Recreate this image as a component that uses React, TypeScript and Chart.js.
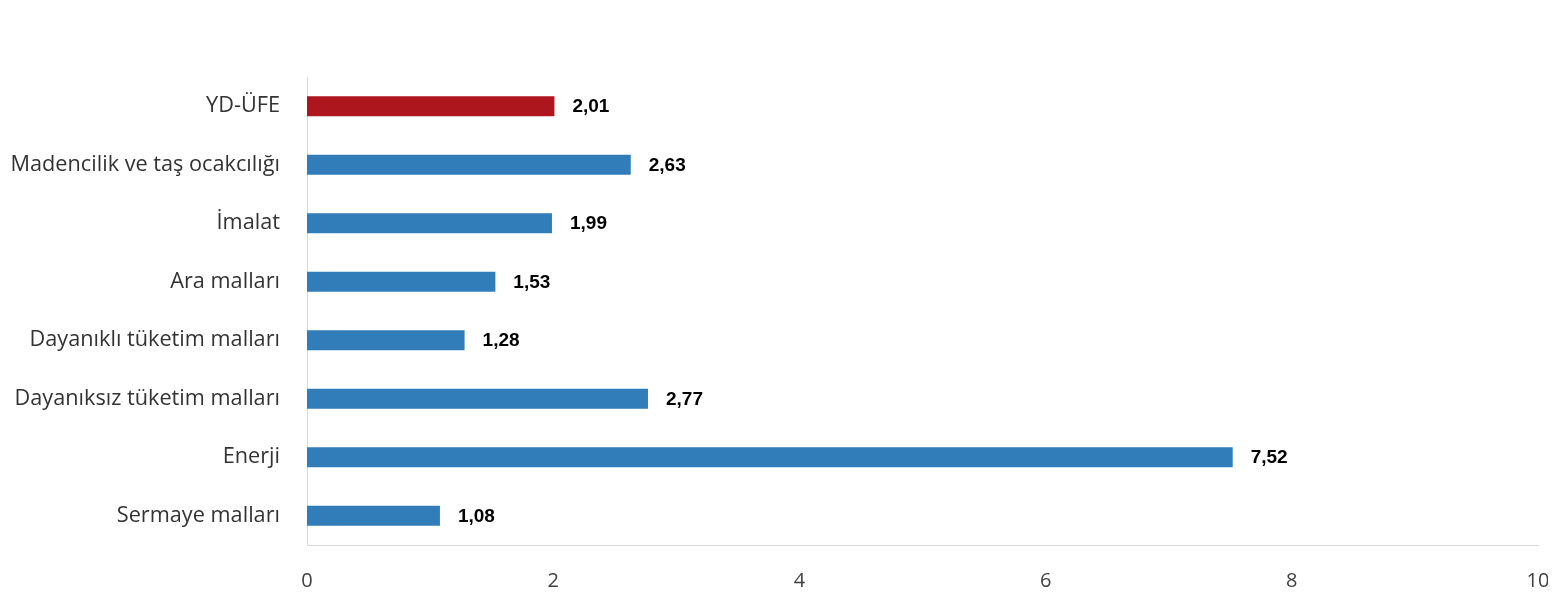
import React, { useEffect, useRef } from "react";
import { Chart, registerables } from "chart.js";

Chart.register(...registerables);

const categories = [
  "YD-ÜFE",
  "Madencilik ve taş ocakcılığı",
  "İmalat",
  "Ara malları",
  "Dayanıklı tüketim malları",
  "Dayanıksız tüketim malları",
  "Enerji",
  "Sermaye malları",
];
const values = [2.01, 2.63, 1.99, 1.53, 1.28, 2.77, 7.52, 1.08];
const barColors = ["#AE161D", "#317DBA", "#317DBA", "#317DBA", "#317DBA", "#317DBA", "#317DBA", "#317DBA"];
const xTicks = [0, 2, 4, 6, 8, 10];

const labelPlugin = {
  id: "valueLabels",
  afterDatasetsDraw(chart: any) {
    const ctx = chart.ctx;
    const meta = chart.getDatasetMeta(0);
    ctx.save();
    ctx.font = "bold 19px 'Liberation Sans', Arial, sans-serif";
    ctx.fillStyle = "#000000";
    ctx.textAlign = "left";
    ctx.textBaseline = "middle";
    meta.data.forEach((bar: any, i: number) => {
      const txt = values[i].toFixed(2).replace(".", ",");
      ctx.fillText(txt, bar.x + 18, bar.y + 1);
    });
    ctx.restore();
  },
};

export default function App() {
  const ref = useRef<HTMLCanvasElement | null>(null);
  useEffect(() => {
    if (!ref.current) return;
    const chart = new Chart(ref.current, {
      type: "bar",
      data: {
        labels: categories,
        datasets: [
          {
            data: values,
            backgroundColor: barColors,
            barPercentage: 0.68,
            categoryPercentage: 0.5,
          },
        ],
      },
      options: {
        indexAxis: "y",
        animation: false,
        responsive: false,
        maintainAspectRatio: false,
        layout: { padding: { top: 69, right: 10, bottom: 0, left: 0 } },
        plugins: { legend: { display: false }, tooltip: { enabled: false } },
        scales: {
          x: {
            min: 0,
            max: 10,
            afterBuildTicks: (scale: any) => {
              scale.ticks = xTicks.map((v) => ({ value: v }));
            },
            afterFit: (scale: any) => {
              scale.height = 47;
              scale.paddingLeft = 0;
              scale.paddingRight = 0;
            },
            grid: { display: false, drawTicks: false },
            border: { display: true, color: "#D9D9D9", width: 1 },
            ticks: {
              padding: 24,
              color: "#404040",
              font: { family: "'Open Sans', sans-serif", size: 20 },
            },
          },
          y: {
            afterFit: (scale: any) => {
              scale.width = 299;
              scale.paddingTop = 0;
              scale.paddingBottom = 0;
            },
            grid: { display: false, drawTicks: false },
            border: { display: true, color: "#D9D9D9", width: 1 },
            ticks: {
              padding: 27,
              color: "#333333",
              font: { family: "'Open Sans', sans-serif", size: 21.7 },
            },
          },
        },
      },
      plugins: [labelPlugin],
    });
    return () => chart.destroy();
  }, []);
  return (
    <div style={{ width: 1540, height: 584 }}>
      <canvas ref={ref} width={1540} height={584} style={{ display: "block" }} />
    </div>
  );
}
